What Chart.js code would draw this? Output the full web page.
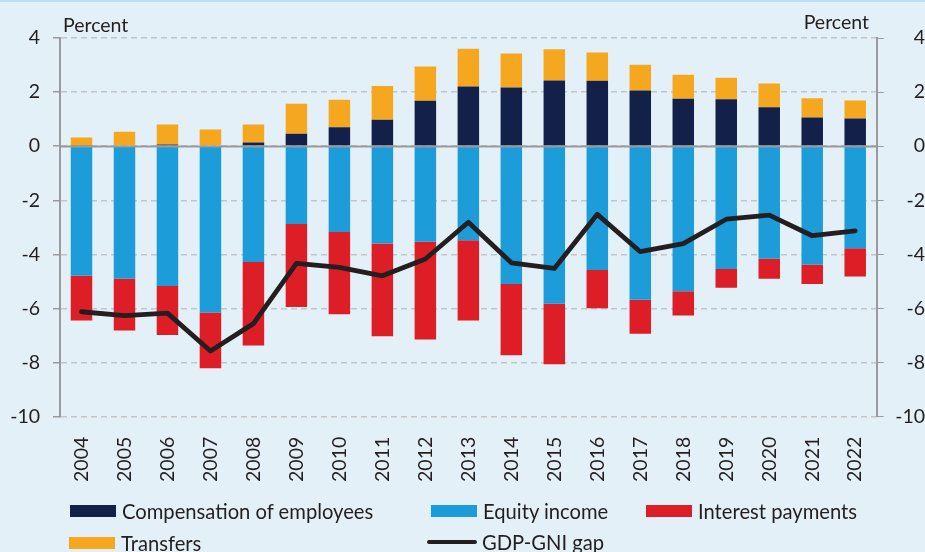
<!DOCTYPE html>
<html>
<head>
<meta charset="utf-8">
<script src="https://cdn.jsdelivr.net/npm/chart.js@4"></script>
<style>
  html, body { margin: 0; padding: 0; }
  body { width: 925px; height: 552px; background: #E3F0F7; position: relative; overflow: hidden; font-family: Lato, "Open Sans", sans-serif; color: #231F20; }
  #topline { position: absolute; left: 0; top: 0; width: 925px; height: 2px; background: #BBDDF3; }
  #wrap { position: absolute; left: 0; top: 0; width: 925px; height: 552px; }
  .unit { position: absolute; font-size: 19.5px; line-height: 1; white-space: nowrap; }
  .leg { position: absolute; font-size: 20.2px; line-height: 1; white-space: nowrap; display: flex; align-items: center; }
  .sw { display: inline-block; width: 46px; height: 12px; margin-right: 6px; }
  .ln { display: inline-block; width: 50px; height: 4.5px; border-radius: 3px; margin-right: 5px; background: #231F20; }
</style>
</head>
<body>
<div id="topline"></div>
<div id="wrap"><canvas id="c" width="925" height="552"></canvas></div>
<div class="unit" style="left:63px; top:15px;">Percent</div>
<div class="unit" style="right:56px; top:12px;">Percent</div>
<div class="leg" style="left:70px; top:501px;"><span class="sw" style="background:#12204A"></span>Compensation of employees</div>
<div class="leg" style="left:431px; top:501px;"><span class="sw" style="background:#1C9DD9"></span>Equity income</div>
<div class="leg" style="left:646px; top:501px;"><span class="sw" style="background:#DE1E26"></span>Interest payments</div>
<div class="leg" style="left:69px; top:533px;"><span class="sw" style="background:#F5A81F"></span>Transfers</div>
<div class="leg" style="left:427px; top:532px;"><span class="ln"></span>GDP-GNI gap</div>
<script>
const years = ['2004','2005','2006','2007','2008','2009','2010','2011','2012','2013','2014','2015','2016','2017','2018','2019','2020','2021','2022'];
const compensation = [0.02, 0.00, 0.06, 0.00, 0.14, 0.46, 0.70, 0.98, 1.68, 2.21, 2.17, 2.43, 2.42, 2.06, 1.75, 1.74, 1.44, 1.06, 1.02];
const transfers    = [0.30, 0.53, 0.74, 0.62, 0.66, 1.11, 1.02, 1.25, 1.27, 1.39, 1.26, 1.15, 1.04, 0.95, 0.89, 0.79, 0.88, 0.71, 0.67];
const equity       = [-4.79, -4.90, -5.17, -6.15, -4.28, -2.88, -3.17, -3.60, -3.53, -3.48, -5.09, -5.82, -4.58, -5.68, -5.36, -4.54, -4.16, -4.37, -3.77];
const interest     = [-1.65, -1.91, -1.81, -2.06, -3.09, -3.06, -3.04, -3.43, -3.62, -2.96, -2.64, -2.24, -1.41, -1.25, -0.90, -0.69, -0.74, -0.72, -1.05];
const gap          = [-6.12, -6.26, -6.17, -7.57, -6.56, -4.33, -4.48, -4.79, -4.17, -2.81, -4.31, -4.52, -2.52, -3.90, -3.60, -2.70, -2.55, -3.31, -3.13];
const yTicks = [4, 2, 0, -2, -4, -6, -8, -10];

const FONT = { family: 'Lato, "Open Sans", sans-serif', size: 19.5 };
const INK = '#231F20';

const zeroLine = {
  id: 'zeroLine',
  afterDatasetsDraw(chart) {
    const { ctx, chartArea, scales } = chart;
    const y = Math.round(scales.y.getPixelForValue(0)) + 0.5;
    ctx.save();
    ctx.strokeStyle = '#9A9A9A';
    ctx.lineWidth = 2;
    ctx.beginPath();
    ctx.moveTo(chartArea.left, y);
    ctx.lineTo(chartArea.right, y);
    ctx.stroke();
    ctx.restore();
  }
};

const barDefaults = { categoryPercentage: 1, barPercentage: 0.5, borderWidth: 0, order: 2, stack: 's' };

new Chart(document.getElementById('c'), {
  data: {
    labels: years,
    datasets: [
      { type: 'line', label: 'GDP-GNI gap', data: gap, borderColor: INK, backgroundColor: INK, borderWidth: 4.8, pointRadius: 0, tension: 0, order: 0, yAxisID: 'y', stack: 'line', borderCapStyle: 'round', borderJoinStyle: 'round' },
      Object.assign({ type: 'bar', label: 'Compensation of employees', data: compensation, backgroundColor: '#12204A' }, barDefaults),
      Object.assign({ type: 'bar', label: 'Transfers', data: transfers, backgroundColor: '#F5A81F' }, barDefaults),
      Object.assign({ type: 'bar', label: 'Equity income', data: equity, backgroundColor: '#1C9DD9' }, barDefaults),
      Object.assign({ type: 'bar', label: 'Interest payments', data: interest, backgroundColor: '#DE1E26' }, barDefaults)
    ]
  },
  options: {
    responsive: false,
    animation: false,
    layout: { padding: { top: 38, right: 0, left: 0, bottom: 0 } },
    plugins: { legend: { display: false }, tooltip: { enabled: false } },
    scales: {
      x: {
        stacked: true,
        offset: true,
        grid: { display: false },
        border: { display: false },
        ticks: { color: INK, font: FONT, maxRotation: 90, minRotation: 90, padding: 12, autoSkip: false },
        afterFit(s) { s.height = 135.3; }
      },
      y: {
        position: 'left',
        stacked: true,
        min: -10, max: 4,
        afterBuildTicks(s) { s.ticks = yTicks.map(v => ({ value: v })); },
        grid: { color: '#C3C6C9', lineWidth: 1.5, tickLength: 7, tickColor: '#9A9A9A', tickBorderDash: [] },
        border: { display: true, color: '#9A9A9A', width: 2, dash: [6, 4] },
        ticks: { color: INK, font: FONT, padding: 13 },
        afterFit(s) { s.width = 60; }
      },
      y2: {
        position: 'right',
        min: -10, max: 4,
        afterBuildTicks(s) { s.ticks = yTicks.map(v => ({ value: v })); },
        grid: { drawOnChartArea: false, tickLength: 7, tickColor: '#9A9A9A', color: '#9A9A9A' },
        border: { display: true, color: '#9A9A9A', width: 2 },
        ticks: { color: INK, font: FONT, padding: 9, crossAlign: 'far' },
        afterFit(s) { s.width = 48.3; }
      }
    }
  },
  plugins: [zeroLine]
});
</script>
</body>
</html>
